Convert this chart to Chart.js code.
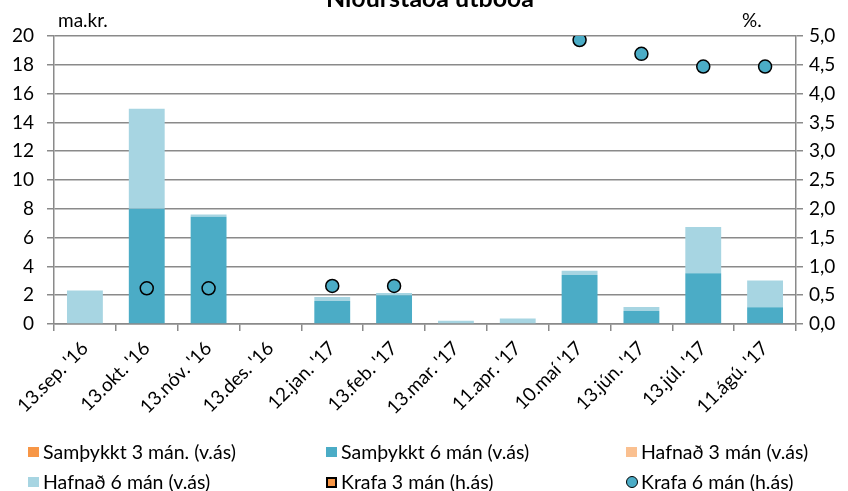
<!DOCTYPE html>
<html>
<head>
<meta charset="utf-8">
<script src="https://cdn.jsdelivr.net/npm/chart.js@4"></script>
<style>
  body { margin: 0; background: #fff; }
  #wrap { position: relative; width: 848px; height: 491px; }
  #legend { position: absolute; left: 0; top: 0; width: 848px; height: 491px; pointer-events: none;
            font-family: Lato, sans-serif; font-size: 19.5px; color: #000; }
  .item { position: absolute; white-space: nowrap; line-height: 22px; }
  .mark { position: absolute; box-sizing: border-box; }
</style>
</head>
<body>
<div id="wrap">
  <canvas id="chart" width="848" height="491"></canvas>
  <div id="legend"></div>
</div>
<script>
// Categories (auction dates)
const categories = ["13.sep. '16", "13.okt. '16", "13.nóv. '16", "13.des. '16", "12.jan. '17", "13.feb. '17",
  "13.mar. '17", "11.apr. '17", "10.maí '17", "13.jún. '17", "13.júl. '17", "11.ágú. '17"];

// Amounts, ma.kr. (left axis)
const samthykkt3 = [null, null, null, null, null, null, null, null, null, null, null, null];
const samthykkt6 = [0, 8.0, 7.45, 0, 1.6, 2.0, 0, 0, 3.4, 0.9, 3.53, 1.16];
const hafnad3 = [null, null, null, null, null, null, null, null, null, null, null, null];
const hafnad6 = [2.33, 6.95, 0.15, 0, 0.28, 0.15, 0.22, 0.39, 0.3, 0.28, 3.2, 1.86];

// Yield, % (right axis)
const krafa3 = [null, null, null, null, null, null, null, null, null, null, null, null];
const krafa6 = [null, 0.62, 0.62, null, 0.66, 0.66, null, null, 4.93, 4.69, 4.47, 4.47];

// Axis ticks
const leftTicks = { min: 0, max: 20, step: 2 };
const rightTicks = { min: 0, max: 5, step: 0.5 };

const gridColor = '#8a8a8a';
const fontFamily = 'Lato, sans-serif';

// Titles drawn on the canvas
const extraText = {
  id: 'extraText',
  afterDraw(chart) {
    const ctx = chart.ctx;
    ctx.save();
    ctx.fillStyle = '#000';
    ctx.textBaseline = 'alphabetic';
    ctx.font = 'bold 25px ' + fontFamily;
    ctx.textAlign = 'center';
    ctx.fillText('Niðurstaða útboða', 430, 7);
    ctx.font = '19px ' + fontFamily;
    ctx.textAlign = 'left';
    ctx.fillText('ma.kr.', 58, 27);
    ctx.fillText('%.', 742, 27);
    ctx.restore();
  }
};

const datasets = [
  { type: 'line', label: 'Krafa 3 mán (h.ás)', data: krafa3, yAxisID: 'y1', showLine: false, order: 0,
    pointStyle: 'rect', pointRadius: 6, pointBorderWidth: 1.5, pointBackgroundColor: '#F79646', pointBorderColor: '#000' },
  { type: 'line', label: 'Krafa 6 mán (h.ás)', data: krafa6, yAxisID: 'y1', showLine: false, order: 0,
    pointRadius: 6.5, pointBorderWidth: 1.5, pointBackgroundColor: '#4BACC6', pointBorderColor: '#000',
    pointHoverRadius: 6.5 },
  { type: 'bar', label: 'Samþykkt 3 mán. (v.ás)', data: samthykkt3, yAxisID: 'y', stack: 's', order: 1,
    backgroundColor: '#F79646' },
  { type: 'bar', label: 'Samþykkt 6 mán (v.ás)', data: samthykkt6, yAxisID: 'y', stack: 's', order: 1,
    backgroundColor: '#4BACC6' },
  { type: 'bar', label: 'Hafnað 3 mán (v.ás)', data: hafnad3, yAxisID: 'y', stack: 's', order: 1,
    backgroundColor: '#FAC090' },
  { type: 'bar', label: 'Hafnað 6 mán (v.ás)', data: hafnad6, yAxisID: 'y', stack: 's', order: 1,
    backgroundColor: '#A7D5E2' }
];

const chart = new Chart(document.getElementById('chart'), {
  data: { labels: categories, datasets: datasets },
  options: {
    responsive: false,
    animation: false,
    layout: { padding: { top: 36, left: 0, right: 0, bottom: 0 } },
    datasets: { bar: { barPercentage: 0.58, categoryPercentage: 1 } },
    plugins: { legend: { display: false }, title: { display: false }, tooltip: { enabled: false } },
    scales: {
      x: {
        stacked: true,
        offset: true,
        afterFit(scale) { scale.height = 167; },
        grid: { offset: true, drawOnChartArea: false, color: gridColor, lineWidth: 1.5, tickLength: 7 },
        border: { color: gridColor, width: 1.5 },
        ticks: { color: '#000', font: { family: fontFamily, size: 19 }, minRotation: 45, maxRotation: 45, padding: 6, autoSkip: false }
      },
      y: {
        stacked: true,
        position: 'left',
        min: leftTicks.min, max: leftTicks.max,
        afterFit(scale) { scale.width = 54; },
        grid: { color: gridColor, lineWidth: 1.5, tickLength: 7 },
        border: { color: gridColor, width: 1.5 },
        ticks: { stepSize: leftTicks.step, color: '#000', font: { family: fontFamily, size: 19 }, padding: 13 }
      },
      y1: {
        position: 'right',
        min: rightTicks.min, max: rightTicks.max,
        afterFit(scale) { scale.width = 52; },
        grid: { drawOnChartArea: false, color: gridColor, lineWidth: 1.5, tickLength: 7 },
        border: { color: gridColor, width: 1.5 },
        ticks: {
          stepSize: rightTicks.step, color: '#000', font: { family: fontFamily, size: 19 }, padding: 6,
          callback: (v) => v.toFixed(1).replace('.', ',')
        }
      }
    }
  },
  plugins: [extraText]
});

// HTML legend in three columns, in the order of the original
const legendOrder = [2, 3, 4, 5, 0, 1];
const colX = [28, 326, 626];
const rowY = [452, 482];
const legend = document.getElementById('legend');
legendOrder.forEach((dsIndex, i) => {
  const ds = datasets[dsIndex];
  const col = i % 3, row = Math.floor(i / 3);
  const mark = document.createElement('div');
  mark.className = 'mark';
  if (ds.type === 'bar') {
    Object.assign(mark.style, { left: colX[col] + 'px', top: (rowY[row] - 5) + 'px', width: '11px', height: '10px', background: ds.backgroundColor });
  } else if (ds.pointStyle === 'rect') {
    Object.assign(mark.style, { left: colX[col] + 'px', top: (rowY[row] - 5) + 'px', width: '11px', height: '11px',
      background: ds.pointBackgroundColor, border: '2px solid #000' });
  } else {
    Object.assign(mark.style, { left: colX[col] + 'px', top: (rowY[row] - 6) + 'px', width: '12px', height: '12px',
      background: ds.pointBackgroundColor, border: '1.5px solid #000', borderRadius: '50%' });
  }
  legend.appendChild(mark);
  const txt = document.createElement('div');
  txt.className = 'item';
  txt.textContent = ds.label;
  txt.style.left = (colX[col] + 15) + 'px';
  txt.style.top = (rowY[row] - 11) + 'px';
  legend.appendChild(txt);
});
</script>
</body>
</html>
